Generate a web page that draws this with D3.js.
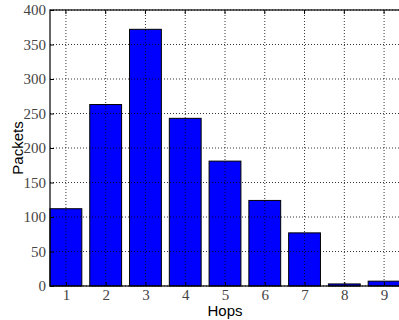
<!DOCTYPE html>
<html>
<head>
<meta charset="utf-8">
<script src="https://cdn.jsdelivr.net/npm/d3@7"></script>
<style>
  body { margin: 0; background: #fff; }
</style>
</head>
<body>
<div id="vis"></div>
<script>
// hop counts and packets per hop
var hops = [1, 2, 3, 4, 5, 6, 7, 8, 9];
var packets = [112, 263, 372, 243, 181, 124, 77, 3, 7];
var yTicks = [0, 50, 100, 150, 200, 250, 300, 350, 400];

var width = 399, height = 320;
var margin = { top: 10, left: 50, bottom: 34, right: -1 };

var svg = d3.select('#vis').append('svg')
    .attr('width', width)
    .attr('height', height);

var x = d3.scaleLinear()
    .domain([0.6, 9.4])
    .range([margin.left, width - margin.right]);

var y = d3.scaleLinear()
    .domain([0, 400])
    .range([height - margin.bottom, margin.top]);

var g = svg.append('g');

// bars
g.selectAll('rect.bar')
    .data(hops)
    .enter().append('rect')
    .attr('class', 'bar')
    .attr('x', function (d) { return x(d - 0.4); })
    .attr('width', function (d) { return x(d + 0.4) - x(d - 0.4); })
    .attr('y', function (d, i) { return y(packets[i]); })
    .attr('height', function (d, i) { return y(0) - y(packets[i]); })
    .style('fill', '#0000ff')
    .style('stroke', '#000')
    .style('stroke-width', 1);

// dotted grid on top of bars
g.append('g').selectAll('line')
    .data(hops)
    .enter().append('line')
    .attr('x1', function (d) { return x(d); })
    .attr('x2', function (d) { return x(d); })
    .attr('y1', y(0)).attr('y2', y(400))
    .style('stroke', '#000').style('stroke-width', 0.8)
    .style('stroke-dasharray', '1,2');

g.append('g').selectAll('line')
    .data(yTicks)
    .enter().append('line')
    .attr('x1', x(0.6)).attr('x2', x(9.4))
    .attr('y1', function (d) { return y(d); })
    .attr('y2', function (d) { return y(d); })
    .style('stroke', '#000').style('stroke-width', 0.8)
    .style('stroke-dasharray', '1,2');

function serifTicks(s) {
  s.attr('font-family', 'Liberation Serif').attr('font-size', 15);
  s.select('.domain').remove();
  s.selectAll('.tick text')
    .attr('font-family', 'Liberation Serif')
    .style('font-family', '"Liberation Serif", serif')
    .style('font-size', '15px')
    .style('fill', '#444');
}

// axes with inward ticks
var xAxis = d3.axisBottom(x).tickValues(hops).tickSize(-4).tickPadding(3)
    .tickFormat(d3.format('d'));
g.append('g')
    .attr('transform', 'translate(0,' + y(0) + ')')
    .call(xAxis)
    .call(serifTicks);

var yAxis = d3.axisLeft(y).tickValues(yTicks).tickSize(-4).tickPadding(4);
g.append('g')
    .attr('transform', 'translate(' + x(0.6) + ',0)')
    .call(yAxis)
    .call(serifTicks);

// top ticks
g.append('g').selectAll('line')
    .data(hops)
    .enter().append('line')
    .attr('x1', function (d) { return x(d); })
    .attr('x2', function (d) { return x(d); })
    .attr('y1', y(400)).attr('y2', y(400) + 4)
    .style('stroke', '#000');

// frame
g.append('rect')
    .attr('x', x(0.6)).attr('y', y(400))
    .attr('width', x(9.4) - x(0.6))
    .attr('height', y(0) - y(400))
    .style('fill', 'none')
    .style('stroke', '#000')
    .style('stroke-width', 1.2);

// axis labels
svg.append('text')
    .attr('x', (x(0.6) + x(9.4)) / 2)
    .attr('y', 316)
    .attr('text-anchor', 'middle')
    .style('font-family', '"Liberation Sans", Arial, sans-serif')
    .style('font-size', '15px')
    .text('Hops');

svg.append('text')
    .attr('transform', 'translate(23,' + (y(0) + y(400)) / 2 + ') rotate(-90)')
    .attr('text-anchor', 'middle')
    .style('font-family', '"Liberation Sans", Arial, sans-serif')
    .style('font-size', '15px')
    .text('Packets');
</script>
</body>
</html>
